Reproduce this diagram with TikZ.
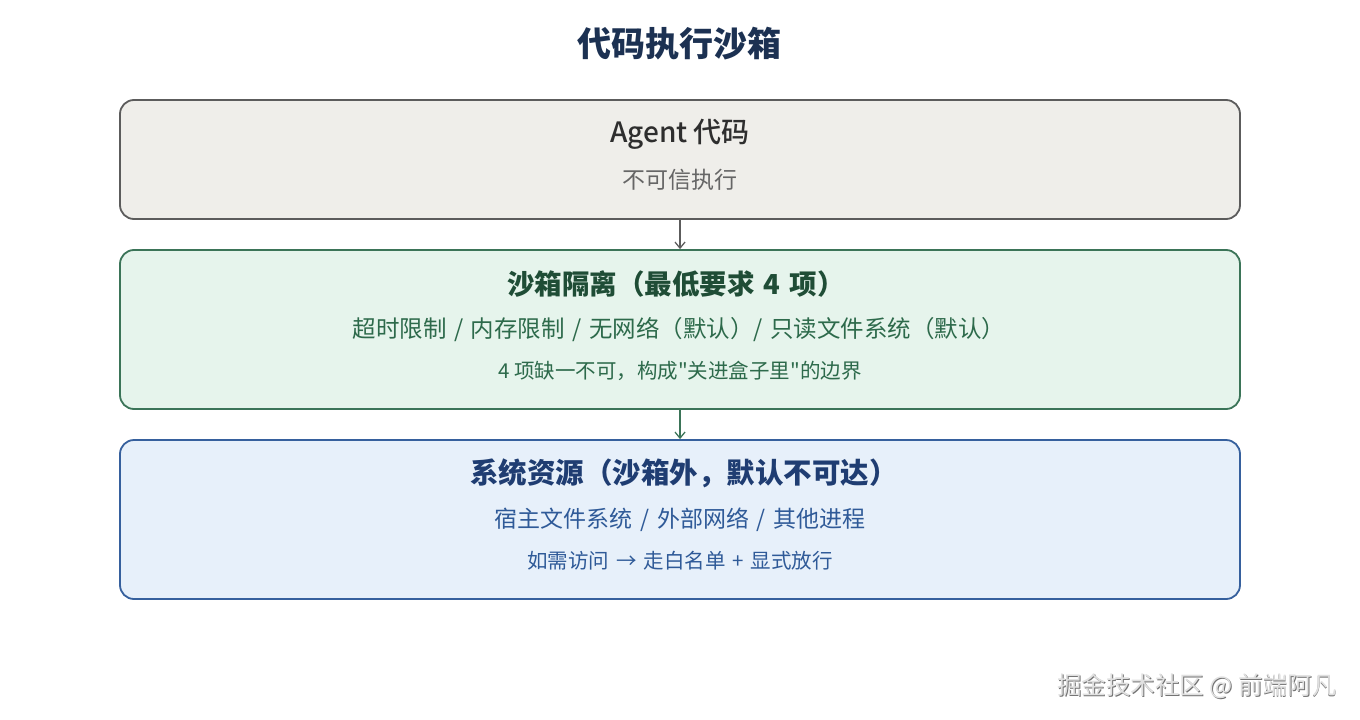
\documentclass[tikz,border=0pt]{standalone}
\usepackage{fontspec}
\setmainfont{Noto Sans CJK SC}[Ligatures=TeXOff]
\newfontfamily\cjkmed{Noto Sans CJK SC Medium}[Ligatures=TeXOff]
\usetikzlibrary{arrows.meta}
\definecolor{titlec}{HTML}{1C3152}
\definecolor{gfill}{HTML}{EFEEEA}
\definecolor{gdraw}{HTML}{5C5C5C}
\definecolor{gtitle}{HTML}{2E2E2E}
\definecolor{gtext}{HTML}{666666}
\definecolor{efill}{HTML}{E6F4EC}
\definecolor{edraw}{HTML}{3B7458}
\definecolor{etitle}{HTML}{1F4D36}
\definecolor{etext}{HTML}{2D6A4B}
\definecolor{bfill}{HTML}{E7F0FA}
\definecolor{bdraw}{HTML}{36609D}
\definecolor{btitle}{HTML}{1F3D72}
\definecolor{btext}{HTML}{2F5A98}
\newcommand{\slsep}{\hspace{7.5pt}/\hspace{7.5pt}}
\newcommand{\mygap}[1]{\hspace{#1}}
\tikzset{
  panel/.style={rounded corners=14pt, line width=1.8pt, minimum width=1120pt, inner sep=0pt},
  ttl/.style={font=\fontsize{27.5}{32}\selectfont\bfseries},
  ln2/.style={font=\fontsize{23}{28}\selectfont},
  ln3/.style={font=\fontsize{20.5}{24}\selectfont},
  conn/.style={line width=1.5pt, -{Straight Barb[length=6pt,width=10pt,line width=1.3pt]}}
}
\begin{document}
\begin{tikzpicture}[x=1pt,y=-1pt]
\useasboundingbox (0,0) rectangle (1360,720);
\node (title) at (679,44) {\fontsize{34}{40}\selectfont\bfseries\color{titlec}代码执行沙箱};

\node[panel, draw=gdraw, fill=gfill, minimum height=119pt] (agent) at (680,159.5) {};
\node[font=\fontsize{28}{32}\selectfont\cjkmed, text=gtitle] (agentT) at (680,134) {Agent 代码};
\node[font=\fontsize{23}{28}\selectfont, text=gtext] (agentS) at (680,180) {不可信执行};

\node[panel, draw=edraw, fill=efill, minimum height=159pt] (sand) at (680,329.5) {};
\node[ttl, text=etitle] (sandT) at (676,284) {沙箱隔离（最低要求\mygap{9pt}4\mygap{9pt}项）};
\node[ln2, text=etext, font=\fontsize{23.5}{28}\selectfont] (sandA) at (679,330) {超时限制\slsep{}内存限制\slsep{}无网络（默认）/\mygap{7.5pt}只读文件系统（默认）};
\node[ln3, text=etext] (sandB) at (680,371) {4 项缺一不可，构成"关进盒子里"的边界};

\node[panel, draw=bdraw, fill=bfill, minimum height=159pt] (sys) at (680,519.5) {};
\node[ttl, text=btitle, font=\fontsize{28.5}{33}\selectfont\bfseries] (sysT) at (684,473) {系统资源（沙箱外，默认不可达）};
\node[ln2, text=btext] (sysA) at (680,520) {宿主文件系统\slsep{}外部网络\slsep{}其他进程};
\node[ln3, text=btext] (sysB) at (680,561) {如需访问\mygap{7pt}→\mygap{7pt}走白名单\mygap{7pt}+\mygap{7pt}显式放行};

\draw[conn, draw=gdraw] (agent.south) -- (sand.north);
\draw[conn, draw=edraw] (sand.south) -- (sys.north);

\node[font=\fontsize{24.5}{28}\selectfont, text=black!55] (wmS) at (1197.8,686.8) {掘金技术社区 @ 前端阿凡};
\node[font=\fontsize{24.5}{28}\selectfont, text=black!12] (wm) at (1197,686) {掘金技术社区 @ 前端阿凡};
\end{tikzpicture}
\end{document}
